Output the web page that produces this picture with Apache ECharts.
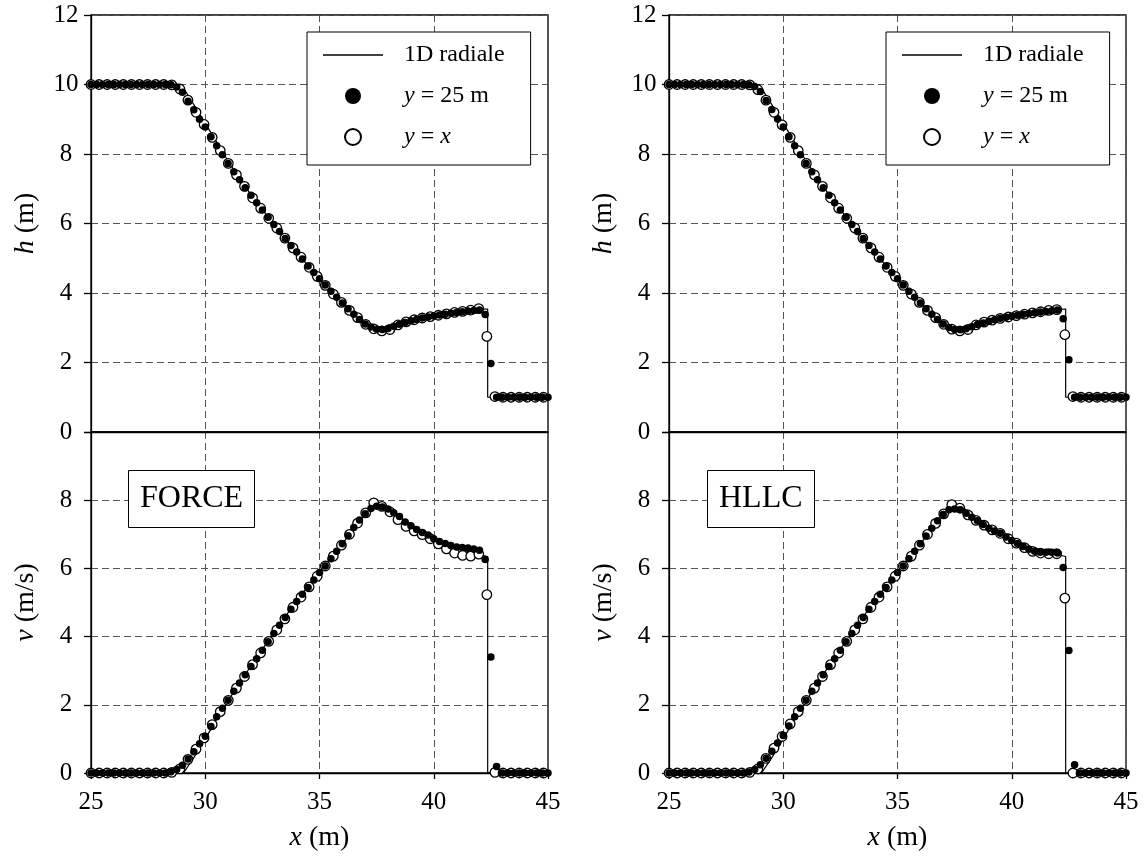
<!DOCTYPE html>
<html>
<head>
<meta charset="utf-8">
<script src="https://cdn.jsdelivr.net/npm/echarts@6.0.0/dist/echarts.min.js"></script>
<style>
  html, body { margin: 0; background: #fff; }
  #chart { width: 1147px; height: 856px; }
</style>
</head>
<body>
<div id="chart"></div>
<script>
// ---- 1D radial reference solution ----
const REF_X_H = [25, 28.95, 29.5, 30, 30.5, 31, 31.5, 32, 32.5, 33, 33.5, 34, 34.5, 35, 35.5, 36, 36.5, 37, 37.5, 37.8, 38, 38.5, 39, 39.5, 40, 40.5, 41, 41.5, 42, 42.36, 42.36, 45];
const REF_H   = [10, 10, 9.42, 8.88, 8.34, 7.8, 7.3, 6.83, 6.4, 5.98, 5.57, 5.17, 4.78, 4.4, 4.05, 3.7, 3.38, 3.1, 2.95, 2.93, 2.95, 3.07, 3.18, 3.27, 3.34, 3.4, 3.45, 3.5, 3.53, 3.54, 1.0, 1.0];
const REF_X_V = [25, 29.05, 29.5, 30, 30.5, 31, 32, 33, 34, 35, 36, 37, 37.38, 38, 38.5, 39, 39.5, 40, 40.5, 41, 41.5, 42, 42.36, 42.36, 45];
const REF_V   = [0, 0, 0.45, 1.0, 1.58, 2.12, 3.14, 4.12, 5.05, 5.9, 6.72, 7.6, 7.97, 7.72, 7.48, 7.25, 7.05, 6.88, 6.73, 6.6, 6.5, 6.4, 6.35, 0, 0];

// ---- 2D results: cells along y = 25 m (step 0.25 m) and along y = x ----
const X_START = 25;
const ROW_STEP = 0.25;                 // cell size along the row
const DIAG_STEP = 0.25 * Math.SQRT2;   // cell spacing projected from the diagonal

const FORCE_ROW_H = [
  10, 10, 10, 10, 10, 10, 10, 10, 10, 10,
  10, 10, 10, 10, 9.99, 9.93, 9.78, 9.52, 9.27, 9.0,
  8.78, 8.5, 8.24, 7.98, 7.73, 7.49, 7.26, 7.03, 6.81, 6.6,
  6.39, 6.18, 5.97, 5.77, 5.57, 5.37, 5.18, 4.98, 4.78, 4.59,
  4.41, 4.23, 4.05, 3.88, 3.71, 3.55, 3.39, 3.24, 3.11, 3.02,
  2.96, 2.95, 2.98, 3.04, 3.1, 3.15, 3.2, 3.24, 3.28, 3.31,
  3.34, 3.37, 3.39, 3.42, 3.44, 3.46, 3.48, 3.5, 3.51, 3.38,
  1.97, 1.0, 1, 1, 1, 1, 1, 1, 1, 1,
  1
];
const FORCE_DIAG_H = [
  10, 10, 10, 10, 10, 10, 10, 10, 10, 10,
  9.99, 9.87, 9.55, 9.2, 8.85, 8.48, 8.1, 7.73, 7.4, 7.07,
  6.74, 6.44, 6.15, 5.87, 5.58, 5.3, 5.03, 4.74, 4.48, 4.22,
  3.97, 3.73, 3.5, 3.29, 3.1, 2.97, 2.91, 2.95, 3.08, 3.17,
  3.23, 3.28, 3.32, 3.36, 3.4, 3.44, 3.47, 3.51, 3.55, 2.75,
  1.02, 1, 1, 1, 1, 1, 1
];
const FORCE_ROW_V = [
  0, 0, 0, 0, 0, 0, 0, 0, 0, 0,
  0, 0, 0, 0, 0.04, 0.1, 0.23, 0.41, 0.62, 0.86,
  1.08, 1.36, 1.65, 1.9, 2.13, 2.4, 2.64, 2.88, 3.12, 3.35,
  3.6, 3.85, 4.09, 4.33, 4.56, 4.8, 5.03, 5.24, 5.44, 5.66,
  5.88, 6.07, 6.28, 6.5, 6.72, 6.96, 7.2, 7.42, 7.6, 7.76,
  7.82, 7.8, 7.74, 7.63, 7.52, 7.36, 7.25, 7.14, 7.05, 6.98,
  6.87, 6.79, 6.73, 6.67, 6.63, 6.61, 6.6, 6.57, 6.53, 6.26,
  3.4, 0.19, 0, 0, 0, 0, 0, 0, 0, 0,
  0
];
const FORCE_DIAG_V = [
  0, 0, 0, 0, 0, 0, 0, 0, 0, 0,
  0.02, 0.12, 0.4, 0.7, 1.03, 1.42, 1.8, 2.13, 2.49, 2.83,
  3.18, 3.52, 3.86, 4.2, 4.52, 4.86, 5.16, 5.46, 5.77, 6.07,
  6.36, 6.68, 7.0, 7.33, 7.63, 7.92, 7.82, 7.66, 7.43, 7.23,
  7.1, 6.99, 6.87, 6.72, 6.57, 6.45, 6.38, 6.36, 6.42, 5.23,
  0.02, 0, 0, 0, 0, 0, 0
];

const HLLC_ROW_H = [
  10, 10, 10, 10, 10, 10, 10, 10, 10, 10,
  10, 10, 10, 10, 9.99, 9.94, 9.8, 9.54, 9.28, 9.01,
  8.78, 8.5, 8.24, 7.98, 7.73, 7.49, 7.26, 7.03, 6.81, 6.6,
  6.39, 6.18, 5.97, 5.77, 5.57, 5.37, 5.18, 4.98, 4.78, 4.59,
  4.41, 4.23, 4.05, 3.88, 3.71, 3.55, 3.39, 3.24, 3.11, 3.01,
  2.95, 2.94, 2.97, 3.03, 3.09, 3.14, 3.19, 3.23, 3.27, 3.3,
  3.33, 3.36, 3.39, 3.41, 3.43, 3.45, 3.47, 3.49, 3.51, 3.26,
  2.08, 1.0, 1, 1, 1, 1, 1, 1, 1, 1,
  1
];
const HLLC_DIAG_H = [
  10, 10, 10, 10, 10, 10, 10, 10, 10, 10,
  9.99, 9.85, 9.55, 9.2, 8.84, 8.48, 8.1, 7.73, 7.4, 7.07,
  6.74, 6.44, 6.15, 5.87, 5.58, 5.3, 5.03, 4.74, 4.48, 4.22,
  3.97, 3.73, 3.5, 3.29, 3.1, 2.96, 2.91, 2.95, 3.08, 3.16,
  3.22, 3.27, 3.31, 3.35, 3.39, 3.43, 3.46, 3.5, 3.52, 2.8,
  1.02, 1, 1, 1, 1, 1, 1
];
const HLLC_ROW_V = [
  0, 0, 0, 0, 0, 0, 0, 0, 0, 0,
  0, 0, 0, 0, 0.03, 0.1, 0.24, 0.43, 0.64, 0.88,
  1.1, 1.38, 1.65, 1.9, 2.13, 2.4, 2.64, 2.88, 3.12, 3.35,
  3.6, 3.85, 4.09, 4.33, 4.56, 4.8, 5.03, 5.24, 5.44, 5.66,
  5.88, 6.07, 6.28, 6.5, 6.72, 6.95, 7.18, 7.4, 7.58, 7.72,
  7.74, 7.72, 7.62, 7.5, 7.4, 7.29, 7.18, 7.1, 7.03, 6.92,
  6.82, 6.73, 6.64, 6.56, 6.5, 6.47, 6.47, 6.47, 6.45, 6.03,
  3.59, 0.24, 0, 0, 0, 0, 0, 0, 0, 0,
  0
];
const HLLC_DIAG_V = [
  0, 0, 0, 0, 0, 0, 0, 0, 0, 0,
  0.02, 0.12, 0.43, 0.73, 1.07, 1.44, 1.8, 2.13, 2.49, 2.83,
  3.18, 3.52, 3.86, 4.2, 4.52, 4.86, 5.16, 5.46, 5.77, 6.07,
  6.36, 6.68, 7.0, 7.32, 7.6, 7.87, 7.77, 7.57, 7.41, 7.27,
  7.13, 7.03, 6.87, 6.74, 6.61, 6.5, 6.45, 6.43, 6.43, 5.13,
  0, 0, 0, 0, 0, 0, 0
];

// ---- axis ranges and tick labels ----
const X_TICKS = [25, 30, 35, 40, 45];
const H_RANGE = [0, 12];
const V_RANGE = [0, 10];
const SCHEMES = ['FORCE', 'HLLC'];
const NAMES = { ref: '1D radiale', row: 'y = 25 m', diag: 'y = x' };

const SERIF = '"Liberation Serif", "Times New Roman", serif';
const INK = '#000';

function zip(xs, ys) { return xs.map((x, i) => [x, ys[i]]); }
function cellX(step, n) { return Array.from({ length: n }, (_, i) => X_START + i * step); }

// grid rectangles: [left column, right column] x [h panel, v panel]
const COL_LEFT = [91, 669];
const PLOT_W = 457;
const H_TOP = 15, H_HEIGHT = 417, V_TOP = 432, V_HEIGHT = 341;

const grids = [], xAxes = [], yAxes = [], series = [];
const dash = { type: [7, 4], color: '#555', width: 1 };
const italicRich = size => ({ i: { fontFamily: SERIF, fontStyle: 'italic', fontSize: size, color: INK } });

const panels = [
  { col: 0, kind: 'h', row: FORCE_ROW_H, diag: FORCE_DIAG_H },
  { col: 0, kind: 'v', row: FORCE_ROW_V, diag: FORCE_DIAG_V },
  { col: 1, kind: 'h', row: HLLC_ROW_H, diag: HLLC_DIAG_H },
  { col: 1, kind: 'v', row: HLLC_ROW_V, diag: HLLC_DIAG_V }
];

panels.forEach((p, g) => {
  const isH = p.kind === 'h';
  grids.push({
    left: COL_LEFT[p.col], width: PLOT_W,
    top: isH ? H_TOP : V_TOP, height: isH ? H_HEIGHT : V_HEIGHT,
    show: true, borderColor: INK, borderWidth: 1.3, backgroundColor: 'transparent'
  });
  xAxes.push({
    type: 'value', gridIndex: g, min: X_TICKS[0], max: X_TICKS[X_TICKS.length - 1], interval: 5,
    axisLine: { show: true, onZero: false, lineStyle: { color: INK, width: 1.3 } },
    axisTick: { show: !isH, inside: false, length: 6, lineStyle: { color: INK, width: 1.3 } },
    axisLabel: { show: !isH, margin: 17, fontFamily: SERIF, fontSize: 25, color: INK },
    splitLine: { show: true, lineStyle: dash },
    name: isH ? '' : '{i|x} (m)',
    nameLocation: 'middle', nameGap: 51,
    nameTextStyle: { fontFamily: SERIF, fontSize: 28, color: INK, rich: italicRich(28) }
  });
  const range = isH ? H_RANGE : V_RANGE;
  yAxes.push({
    type: 'value', gridIndex: g, min: range[0], max: range[1], interval: 2,
    axisLine: { show: true, onZero: false, lineStyle: { color: INK, width: 1.3 } },
    axisTick: { show: true, inside: false, length: 7, lineStyle: { color: INK, width: 1.3 } },
    axisLabel: {
      margin: 25, align: 'center', fontFamily: SERIF, fontSize: 25, color: INK,
      formatter: v => (!isH && v === range[1]) ? '' : String(v)
    },
    splitLine: { show: true, lineStyle: dash },
    name: isH ? '{i|h} (m)' : '{i|v} (m/s)',
    nameLocation: 'middle', nameGap: 51,
    nameTextStyle: { fontFamily: SERIF, fontSize: 28, color: INK, rich: italicRich(28) }
  });

  const refX = isH ? REF_X_H : REF_X_V;
  const refY = isH ? REF_H : REF_V;
  series.push({
    type: 'line', name: NAMES.ref, xAxisIndex: g, yAxisIndex: g,
    data: zip(refX, refY), symbol: 'none', showSymbol: false,
    lineStyle: { color: INK, width: 1.2 }, itemStyle: { color: INK }, z: 2
  });
  series.push({
    type: 'scatter', name: NAMES.diag, xAxisIndex: g, yAxisIndex: g,
    data: zip(cellX(DIAG_STEP, p.diag.length), p.diag),
    symbol: 'circle', symbolSize: 9.5,
    itemStyle: { color: '#fff', borderColor: INK, borderWidth: 1.3, opacity: 1 }, z: 3
  });
  series.push({
    type: 'scatter', name: NAMES.row, xAxisIndex: g, yAxisIndex: g,
    data: zip(cellX(ROW_STEP, p.row.length), p.row),
    symbol: 'circle', symbolSize: 7.5,
    itemStyle: { color: INK, opacity: 1 }, z: 4
  });
});

function legendFor(left) {
  return {
    orient: 'vertical', left: left, top: 32,
    data: [
      { name: NAMES.ref, icon: 'path://M0,0H40V1H0Z', itemStyle: { color: INK, borderWidth: 0 } },
      { name: NAMES.row, icon: 'circle' },
      { name: NAMES.diag, icon: 'circle' }
    ],
    itemWidth: 60, itemHeight: 16, itemGap: 13,
    padding: [9, 26, 14, 16],
    backgroundColor: '#fff', borderColor: INK, borderWidth: 1, borderRadius: 0,
    selectedMode: false,
    textStyle: {
      fontFamily: SERIF, fontSize: 24, color: INK, lineHeight: 28, padding: [0, 0, 0, 16],
      rich: { i: { fontFamily: SERIF, fontStyle: 'italic', fontSize: 24, lineHeight: 28, color: INK } }
    },
    formatter: name => name.replace(/^y /, '{i|y} ').replace(/= x$/, '= {i|x}')
  };
}

function schemeLabel(text, left) {
  return {
    text: text, left: left, top: 470,
    padding: [10, 12, 10, 12],
    borderColor: INK, borderWidth: 1, backgroundColor: '#fff',
    textStyle: { fontFamily: SERIF, fontSize: 32, fontWeight: 'normal', color: INK, lineHeight: 38 }
  };
}

const chart = echarts.init(document.getElementById('chart'), null, { renderer: 'canvas' });
chart.setOption({
  backgroundColor: '#fff',
  animation: false,
  title: [schemeLabel(SCHEMES[0], 128), schemeLabel(SCHEMES[1], 707)],
  legend: [legendFor(307), legendFor(886)],
  grid: grids,
  xAxis: xAxes,
  yAxis: yAxes,
  series: series
});
</script>
</body>
</html>
